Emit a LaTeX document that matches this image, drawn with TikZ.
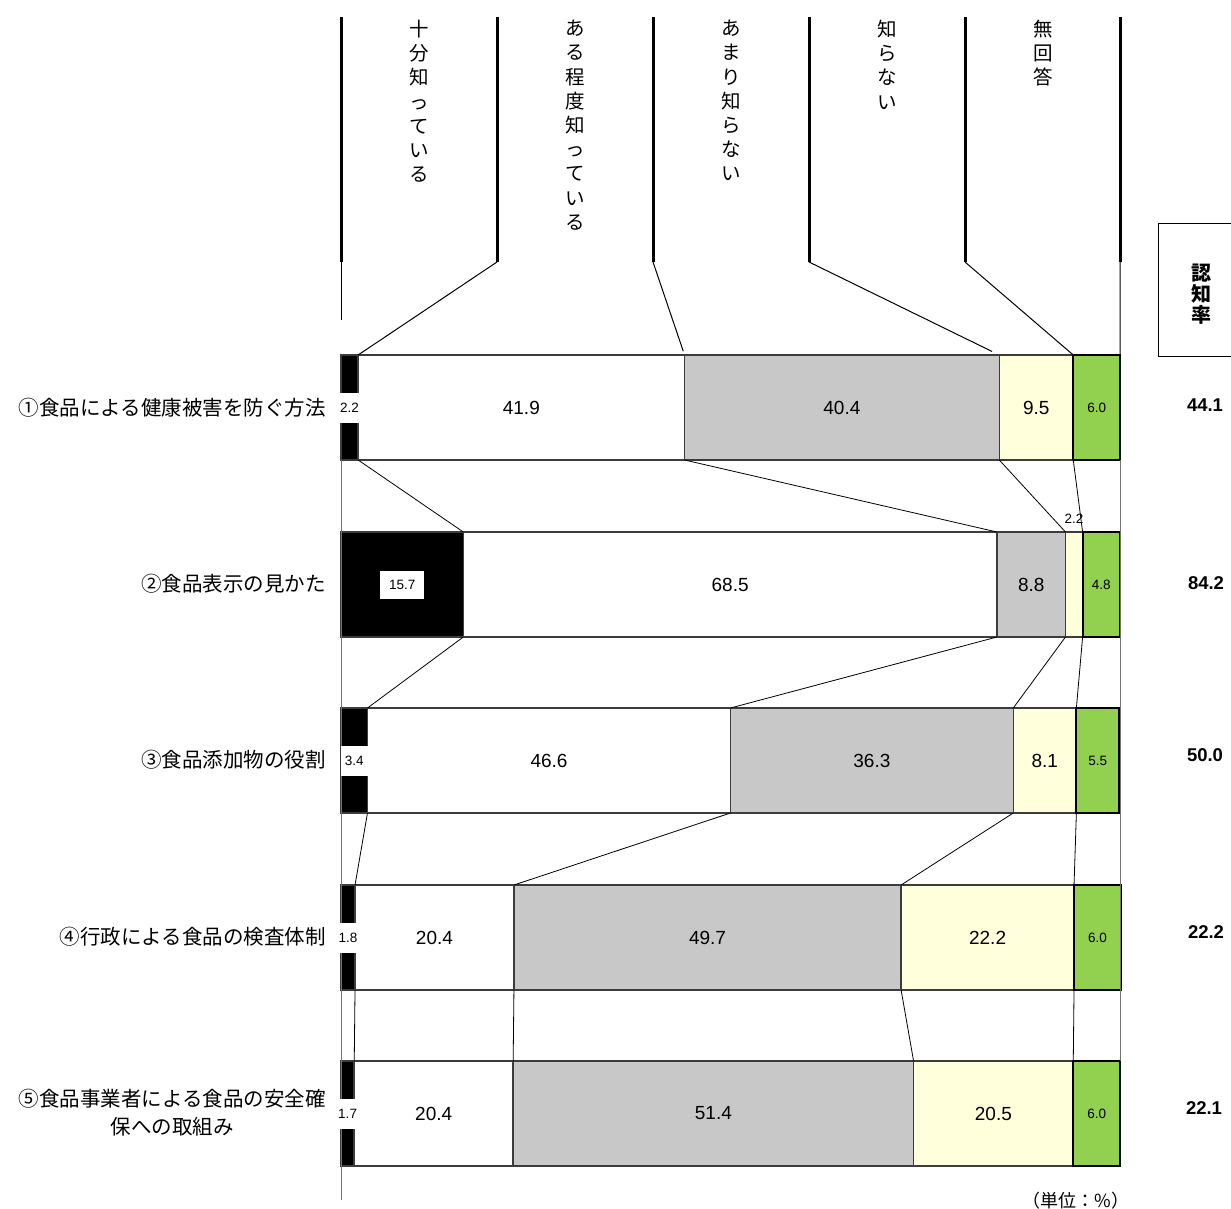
\documentclass[tikz,border=0pt]{standalone}
\usepackage{fontspec}
\newfontfamily\jp{Noto Sans CJK JP}
\newfontfamily\num{Liberation Sans}
\definecolor{cGray}{HTML}{C8C8C8}
\definecolor{cYel}{HTML}{FFFFDC}
\definecolor{cGrn}{HTML}{92D050}
\definecolor{cEdge}{HTML}{3C3C3C}
\tikzset{
  seg/.style={draw=cEdge, line width=1.5pt, minimum height=105pt, inner sep=0pt, outer sep=0pt, anchor=north west},
  grn/.style={seg, draw=black, line width=1.8pt, fill=cGrn},
  lab/.style={font=\num\fontsize{19}{19}\selectfont, inner sep=0pt},
  smlab/.style={font=\num\fontsize{13.5}{13.5}\selectfont, inner sep=0pt},
  wlab/.style={smlab, fill=white, inner xsep=1pt, minimum height=30pt},
  conn/.style={draw=black, line width=0.8pt},
  hdr/.style={draw=black, line width=3pt},
  thinline/.style={draw=black, line width=1pt},
  frameline/.style={draw=black!55, line width=1pt},
  vtxt/.style={font=\jp\fontsize{19.5}{24.2}\selectfont, align=center, inner sep=0pt, anchor=north},
  rowlab/.style={font=\jp\fontsize{20.5}{28}\selectfont, align=center, inner sep=0pt, anchor=east},
  rate/.style={font=\num\bfseries\fontsize{18.5}{18.5}\selectfont, inner sep=0pt},
}
\newcommand\drawbar[7]{%
  \pgfmathsetmacro\wA{#3*7.79}%
  \pgfmathsetmacro\wB{#4*7.79}%
  \pgfmathsetmacro\wC{#5*7.79}%
  \pgfmathsetmacro\wD{#6*7.79}%
  \pgfmathsetmacro\wE{#7*7.79}%
  \node[seg, fill=black, minimum width=\wA pt] (b#1-1) at (341,#2) {};
  \node[seg, fill=white, minimum width=\wB pt] (b#1-2) at (b#1-1.north east) {};
  \node[seg, fill=cGray, minimum width=\wC pt] (b#1-3) at (b#1-2.north east) {};
  \node[seg, fill=cYel, minimum width=\wD pt] (b#1-4) at (b#1-3.north east) {};
  \node[grn, minimum width=\wE pt] (b#1-5) at (b#1-4.north east) {};
}
\begin{document}
\begin{tikzpicture}[x=1pt, y=-1pt]
\useasboundingbox (0,0) rectangle (1231,1209);
% header coordinates
\foreach \i/\xx in {0/341,1/497,2/653,3/809,4/965,5/1120}{
  \coordinate (ht\i) at (\xx,17);
  \coordinate (hb\i) at (\xx,262);
}
\coordinate (lstub) at (341,320);
\coordinate (axbot) at (341,1200);
% header texts
\node[vtxt] (h1) at (419,20) {十\\分\\知\\っ\\て\\い\\る};
\node[vtxt] (h2) at (575,20) {あ\\る\\程\\度\\知\\っ\\て\\い\\る};
\node[vtxt] (h3) at (731,20) {あ\\ま\\り\\知\\ら\\な\\い};
\node[vtxt] (h4) at (887,20) {知\\ら\\な\\い};
\node[vtxt] (h5) at (1043,20) {無\\回\\答};
% bars
\drawbar{1}{355}{2.2}{41.9}{40.4}{9.5}{6.0}
\drawbar{2}{532}{15.7}{68.5}{8.8}{2.2}{4.8}
\drawbar{3}{708}{3.4}{46.6}{36.3}{8.1}{5.5}
\drawbar{4}{885}{1.8}{20.4}{49.7}{22.2}{6.0}
\drawbar{5}{1061}{1.7}{20.4}{51.4}{20.5}{6.0}
% header lines
\foreach \i in {0,...,5}{\draw[hdr] (ht\i) -- (hb\i);}
\draw[thinline] (hb0) -- (lstub);
\draw[thinline] (hb1) -- (b1-1.north east);
\draw[thinline, shorten >=4pt] (hb2) -- (b1-2.north east);
\draw[thinline, shorten >=8pt] (hb3) -- (b1-3.north east);
\draw[thinline] (hb4) -- (b1-4.north east);
\draw[thinline] (hb5) -- (b1-5.north east);
% frame
\draw[frameline] (b1-1.south west) -- (axbot);
\draw[frameline] (b1-5.south east) -- (b5-5.north east);
% connectors
\foreach \i/\j in {1/2,2/3,3/4,4/5}{
  \foreach \k in {1,...,4}{
    \draw[conn] (b\i-\k.south east) -- (b\j-\k.north east);
  }
}
% labels bar 1
\node[wlab] (l1-1) at (b1-1) {2.2};
\node[lab] (l1-2) at (b1-2) {41.9};
\node[lab] (l1-3) at (b1-3) {40.4};
\node[lab] (l1-4) at (b1-4) {9.5};
\node[smlab] (l1-5) at (b1-5) {6.0};
% bar 2
\node[smlab, fill=white, minimum width=44pt, minimum height=28pt] (l2-1) at (b2-1) {15.7};
\node[lab] (l2-2) at (b2-2) {68.5};
\node[lab] (l2-3) at (b2-3) {8.8};
\node[smlab, anchor=south] (l2-4) at ([yshift=8pt]b2-4.north) {2.2};
\node[smlab] (l2-5) at (b2-5) {4.8};
% bar 3
\node[wlab, minimum width=27pt] (l3-1) at (b3-1) {3.4};
\node[lab] (l3-2) at (b3-2) {46.6};
\node[lab] (l3-3) at (b3-3) {36.3};
\node[lab] (l3-4) at (b3-4) {8.1};
\node[smlab] (l3-5) at (b3-5) {5.5};
% bar 4
\node[wlab] (l4-1) at (b4-1) {1.8};
\node[lab] (l4-2) at (b4-2) {20.4};
\node[lab] (l4-3) at (b4-3) {49.7};
\node[lab] (l4-4) at (b4-4) {22.2};
\node[smlab] (l4-5) at (b4-5) {6.0};
% bar 5
\node[wlab] (l5-1) at (b5-1) {1.7};
\node[lab] (l5-2) at (b5-2) {20.4};
\node[lab] (l5-3) at (b5-3) {51.4};
\node[lab] (l5-4) at (b5-4) {20.5};
\node[smlab] (l5-5) at (b5-5) {6.0};
% row labels
\node[rowlab] (r1) at (326,408) {①食品による健康被害を防ぐ方法};
\node[rowlab] (r2) at (326,584) {②食品表示の見かた};
\node[rowlab] (r3) at (326,760) {③食品添加物の役割};
\node[rowlab] (r4) at (326,937) {④行政による食品の検査体制};
\node[rowlab] (r5) at (326,1113) {⑤食品事業者による食品の安全確\\保への取組み};
% rate box
\draw[thinline] (1240,223) -- (1158,223) -- (1158,356) -- (1240,356);
\node[font=\jp\bfseries\fontsize{20}{21}\selectfont, align=center, inner sep=0pt] (rt) at (1201,294) {認\\知\\率};
\node[rate] (v1) at (1205,405) {44.1};
\node[rate] (v2) at (1206,583) {84.2};
\node[rate] (v3) at (1205,755) {50.0};
\node[rate] (v4) at (1206,932) {22.2};
\node[rate] (v5) at (1204,1108) {22.1};
% unit
\node[font=\jp\fontsize{18}{18}\selectfont, inner sep=0pt] (unit) at (1076,1201) {（単位：\%）};
\end{tikzpicture}
\end{document}
